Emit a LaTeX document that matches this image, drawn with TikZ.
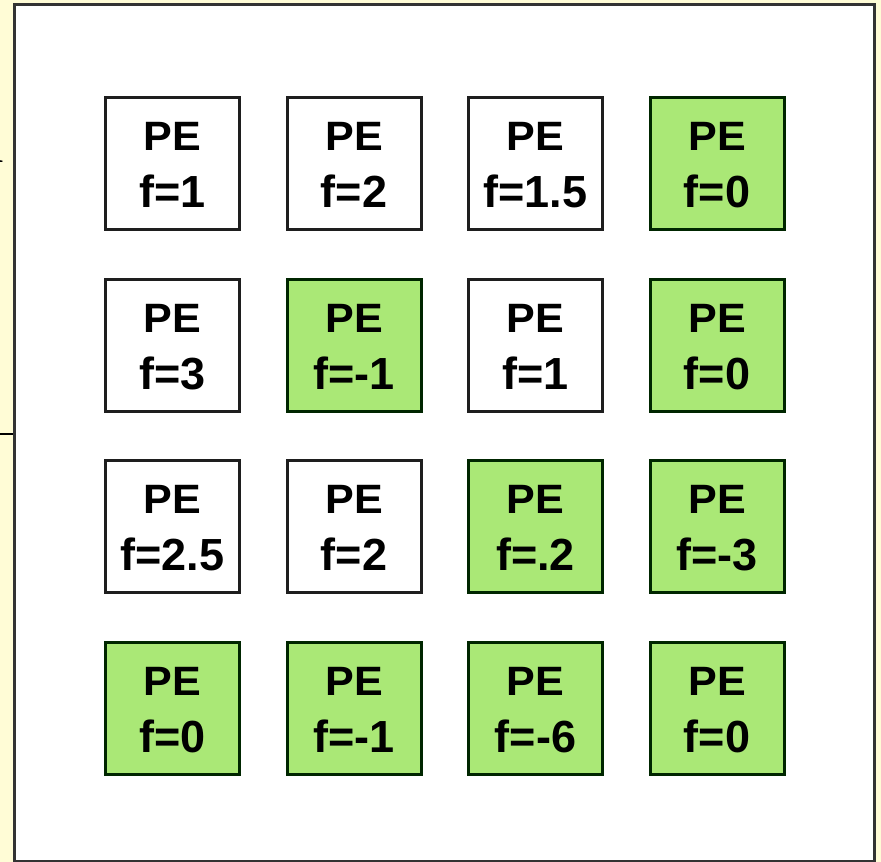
\documentclass[tikz,border=0pt]{standalone}
\usepackage{fontspec}
\setmainfont{Liberation Sans}
\newfontfamily\serifk{Liberation Serif}
\definecolor{cream}{RGB}{255,252,214}
\definecolor{pegreen}{RGB}{170,232,118}
\definecolor{edge}{RGB}{30,30,30}
\newcommand{\pecell}[5]{%
  \node[cell,#5] (#1) at (#2,#3) {};
  \node[petxt] (#1-pe) at ([yshift=-53pt]#1.north) {\scalebox{1.05}[1]{PE}};
  \node[ftxt] (#1-f) at ([yshift=-110pt]#1.north) {#4};
}
\begin{document}
\begin{tikzpicture}[x=1pt,y=-1pt,
  cell/.style={draw=edge,line width=3pt,minimum width=134pt,minimum height=132pt,
    inner sep=0pt,outer sep=0pt,rectangle},
  plain/.style={fill=white},
  green/.style={fill=pegreen,draw=black!85!green},
  petxt/.style={anchor=base,inner sep=0pt,font=\fontsize{41}{43}\selectfont\bfseries},
  ftxt/.style={anchor=base,inner sep=0pt,font=\fontsize{45}{48}\selectfont\bfseries},
  panel/.style={fill=white,draw=black!80,line width=2.5pt}]
\useasboundingbox (0,0) rectangle (881,862);
\fill[cream] (0,0) rectangle (881,862);
\node[anchor=base east,inner sep=0pt,font=\serifk\fontsize{54}{56}\selectfont] (kglyph) at (4,162) {K};
\draw[black,line width=1.5pt] (0,434) -- (14,434);
\draw[panel] (14.5,4.5) rectangle (874.5,861);
% row 1
\pecell{c11}{172.5}{163}{f=1}{plain}
\pecell{c12}{354}{163}{f=2}{plain}
\pecell{c13}{535.5}{163}{f=1.5}{plain}
\pecell{c14}{717}{163}{f=0}{green}
% row 2
\pecell{c21}{172.5}{345.5}{f=3}{plain}
\pecell{c22}{354}{345.5}{f=-1}{green}
\pecell{c23}{535.5}{345.5}{f=1}{plain}
\pecell{c24}{717}{345.5}{f=0}{green}
% row 3
\pecell{c31}{172.5}{526.5}{f=2.5}{plain}
\pecell{c32}{354}{526.5}{f=2}{plain}
\pecell{c33}{535.5}{526.5}{f=.2}{green}
\pecell{c34}{717}{526.5}{f=-3}{green}
% row 4
\pecell{c41}{172.5}{708}{f=0}{green}
\pecell{c42}{354}{708}{f=-1}{green}
\pecell{c43}{535.5}{708}{f=-6}{green}
\pecell{c44}{717}{708}{f=0}{green}
\end{tikzpicture}
\end{document}
